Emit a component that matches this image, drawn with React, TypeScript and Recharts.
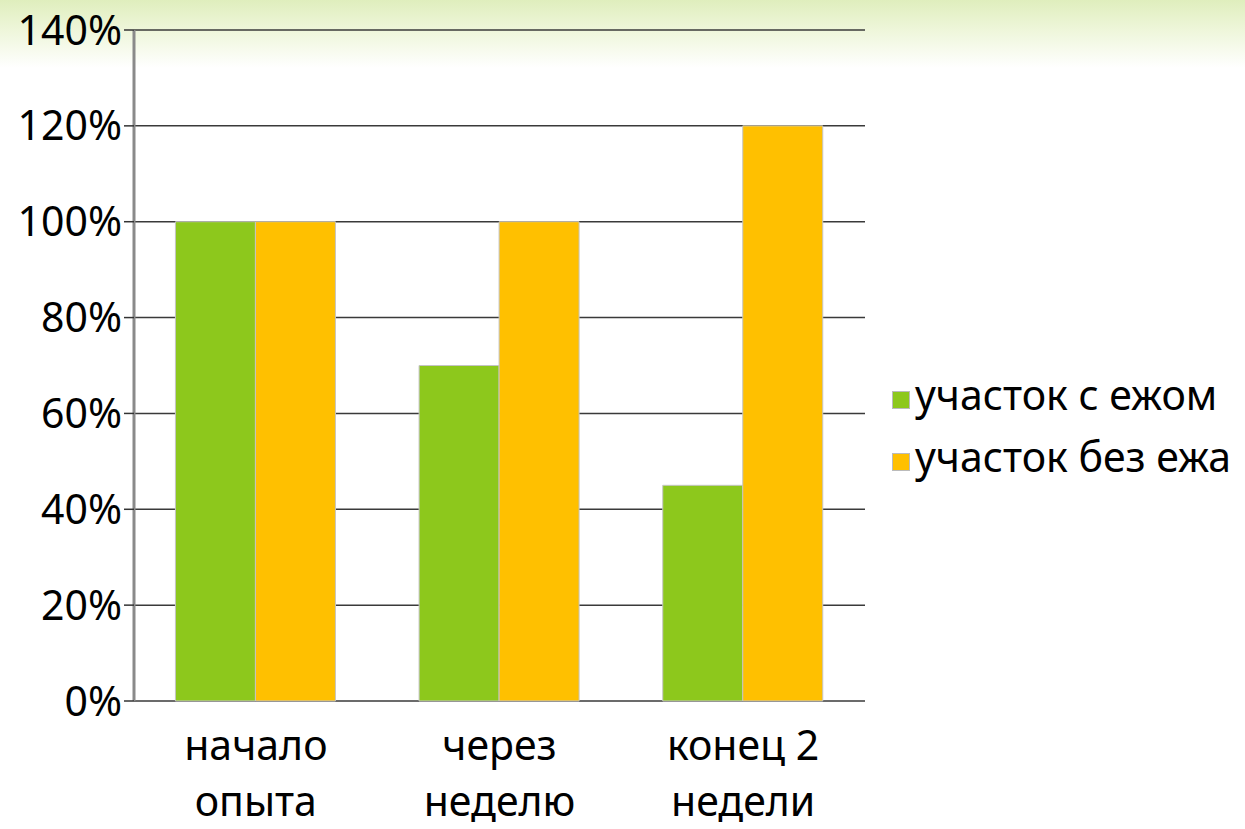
import { BarChart, Bar, XAxis, YAxis, CartesianGrid, Legend } from 'recharts';

const categories = ['начало опыта', 'через неделю', 'конец 2 недели'];
const labelLines = [
  ['начало', 'опыта'],
  ['через', 'неделю'],
  ['конец 2', 'недели'],
];
const withHedgehog = [1.0, 0.7, 0.45];
const withoutHedgehog = [1.0, 1.0, 1.2];
const yTicks = [0, 0.2, 0.4, 0.6, 0.8, 1.0, 1.2, 1.4];
const boundaryTicks = [0, 1, 2, 3];

const seriesNames = ['участок с ежом', 'участок без ежа'];
const GREEN = '#8dc81c';
const ORANGE = '#ffc000';
const FONT = '"Noto Sans", "Open Sans", sans-serif';

const data = categories.map((c, i) => ({
  label: c,
  a: withHedgehog[i],
  b: withoutHedgehog[i],
}));

const CategoryTick = (props: any) => {
  const { x, y, index } = props;
  const lines = labelLines[index] ?? [];
  return (
    <g>
      {lines.map((l: string, i: number) => (
        <text
          key={i}
          x={x}
          y={y + 51 + i * 56}
          textAnchor="middle"
          fontFamily={FONT}
          fontSize={41}
          fill="#000"
        >
          {l}
        </text>
      ))}
    </g>
  );
};

const LegendContent = () => (
  <div style={{ fontFamily: FONT, fontSize: 41, color: '#000', whiteSpace: 'nowrap', width: 360 }}>
    {seriesNames.map((n, i) => (
      <div key={n} style={{ display: 'flex', alignItems: 'center', height: 62, lineHeight: '62px' }}>
        <span
          style={{
            display: 'inline-block',
            flexShrink: 0,
            width: 18,
            height: 18,
            background: i === 0 ? GREEN : ORANGE,
            border: '1px solid #bbb',
            boxSizing: 'border-box',
            marginRight: 5,
            position: 'relative',
            top: 6,
          }}
        />
        <span>{n}</span>
      </div>
    ))}
  </div>
);

const App: React.FC = () => {
  return (
    <div
      style={{
        position: 'absolute',
        left: 0,
        top: 0,
        width: 1245,
        height: 829,
        background: 'linear-gradient(to bottom, #dfeebd 0px, #eef6da 30px, #ffffff 68px, #ffffff 100%)',
      }}
    >
      <BarChart
        width={1245}
        height={829}
        data={data}
        margin={{ top: 30, right: 380, bottom: 0, left: 0 }}
        barCategoryGap="17%"
        barGap={0}
      >
        <CartesianGrid vertical={false} stroke="#3a3a3a" strokeWidth={1.5} />
        <XAxis
          xAxisId="num"
          type="number"
          domain={[0, 3]}
          ticks={boundaryTicks}
          height={0}
          axisLine={{ stroke: '#444', strokeWidth: 1.5 }}
          tickLine={{ stroke: '#444', strokeWidth: 1.5 }}
          tickSize={8}
          tick={() => <g />}
        />
        <XAxis
          xAxisId="cat"
          dataKey="label"
          height={128}
          axisLine={false}
          tickLine={false}
          tick={<CategoryTick />}
          interval={0}
        />
        <YAxis
          domain={[0, 1.4]}
          ticks={yTicks}
          width={134}
          axisLine={{ stroke: '#8a8a8a', strokeWidth: 3 }}
          tickLine={{ stroke: '#333', strokeWidth: 1.5 }}
          tickSize={10}
          tickFormatter={(v: number) => `${Math.round(v * 100)}%`}
          tick={{ fontFamily: FONT, fontSize: 41, fill: '#000' }}
        />
        <Legend
          layout="vertical"
          align="right"
          verticalAlign="middle"
          content={<LegendContent />}
          wrapperStyle={{ left: 892, right: 'auto', top: 363, width: 0, height: 0, overflow: 'visible' }}
        />
        <Bar
          xAxisId="cat"
          dataKey="a"
          name={seriesNames[0]}
          fill={GREEN}
          stroke="#c4c4c4"
          strokeWidth={1}
          isAnimationActive={false}
        />
        <Bar
          xAxisId="cat"
          dataKey="b"
          name={seriesNames[1]}
          fill={ORANGE}
          stroke="#c4c4c4"
          strokeWidth={1}
          isAnimationActive={false}
        />
      </BarChart>
    </div>
  );
};

export default App;
